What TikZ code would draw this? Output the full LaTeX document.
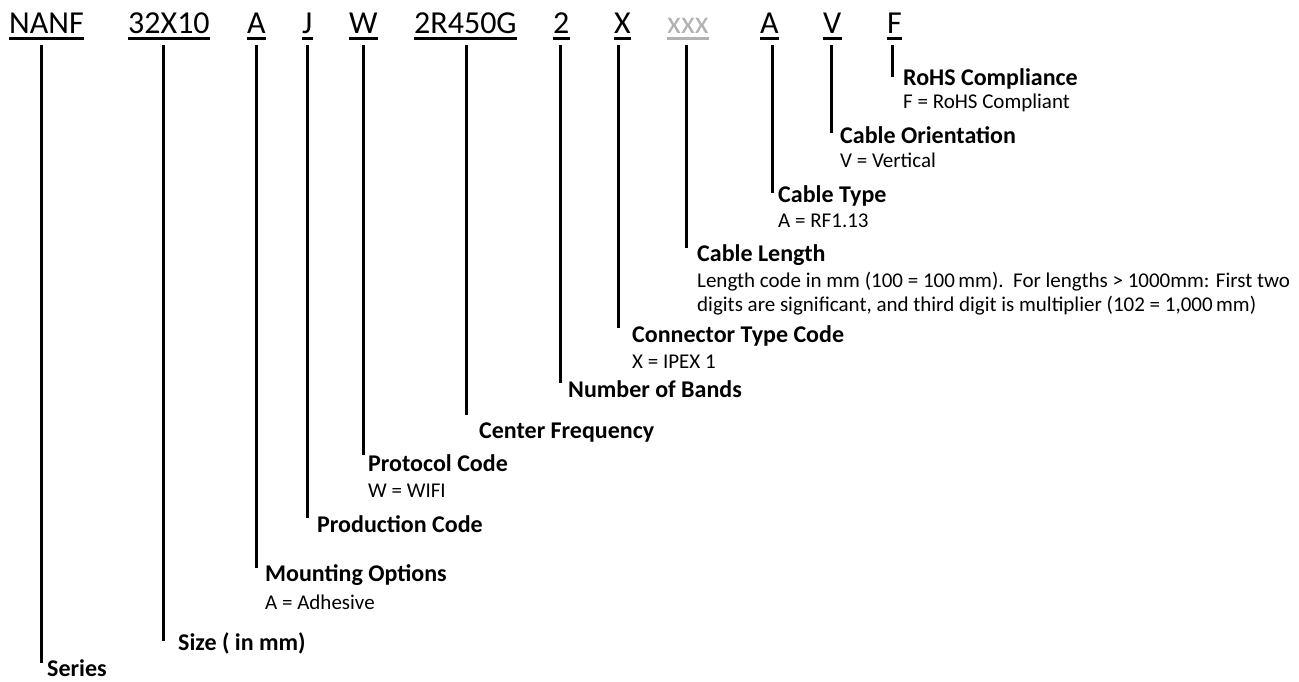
\documentclass[tikz,border=0pt]{standalone}
\usepackage{fontspec}
\setmainfont{Carlito}
\usepackage{tikz}
\usetikzlibrary{positioning,calc}
\tikzset{
    codigo/.style={
        anchor=base west,
        inner sep=0pt,
        text depth=12pt,
        font=\fontsize{32}{36}\selectfont
    },
    codigoCinza/.style={codigo, text=black!30},
    titulo/.style={
        anchor=base west,
        inner sep=0pt,
        font=\fontsize{24}{28}\selectfont\bfseries
    },
    descricao/.style={
        anchor=base west,
        inner sep=0pt,
        align=left,
        font=\fontsize{21}{24}\selectfont
    },
    perna/.style={line width=3pt},
    sublinha/.style={line width=2.5pt}
}

\begin{document}
\begin{tikzpicture}[x=1pt, y=-1pt]
        \useasboundingbox (0,0) rectangle (1299,681);

        % codigo da peca
        \node[codigo] (nanf) at (9,33) {NANF};
        \node[codigo] (tamanho) at (128,33) {32X10};
        \node[codigo] (montagem) at (247,33) {A};
        \node[codigo] (producao) at (302,33) {J};
        \node[codigo] (protocolo) at (349,33) {W};
        \node[codigo] (frequencia) at (414,33) {2R450G};
        \node[codigo] (bandas) at (553,33) {2};
        \node[codigo] (conector) at (614,33) {X};
        \node[codigoCinza] (comprimento) at (667,33) {xxx};
        \node[codigo] (tipocabo) at (760,33) {A};
        \node[codigo] (orientacao) at (823,33) {V};
        \node[codigo] (rohs) at (887,33) {F};

        \foreach \n in {nanf,tamanho,montagem,producao,protocolo,frequencia,bandas,conector,tipocabo,orientacao,rohs}
            \draw[sublinha] ([yshift=-5.3pt]\n.base west) -- ([yshift=-5.3pt]\n.base east);
        \draw[sublinha, black!30] ([yshift=-5.3pt]comprimento.base west) -- ([yshift=-5.3pt]comprimento.base east);

        % fins das pernas
        \coordinate (p-rohs) at (892,77);
        \coordinate (p-orient) at (831,133);
        \coordinate (p-tipo) at (772,193);
        \coordinate (p-compr) at (686,248);
        \coordinate (p-conect) at (618,328);
        \coordinate (p-bandas) at (560,383);
        \coordinate (p-freq) at (466,415);
        \coordinate (p-prot) at (363,455);
        \coordinate (p-prod) at (307,518);
        \coordinate (p-mont) at (256,568);
        \coordinate (p-tam) at (163,641);
        \coordinate (p-serie) at (41,663);

        % legendas
        \node[titulo] (t-rohs) at ([shift={(11,8)}]p-rohs) {RoHS Compliance};
        \node[descricao] (d-rohs) at ([yshift=-23pt]t-rohs.base west) {F = RoHS Compliant};
        \node[titulo] (t-orient) at ([shift={(9,10)}]p-orient) {Cable Orientation};
        \node[descricao] (d-orient) at ([yshift=-24pt]t-orient.base west) {V = Vertical};
        \node[titulo] (t-tipo) at ([shift={(6,9)}]p-tipo) {Cable Type};
        \node[descricao] (d-tipo) at ([yshift=-25pt]t-tipo.base west) {A = RF1.13};
        \node[titulo] (t-compr) at ([shift={(11,13)}]p-compr) {Cable Length};
        \node[descricao] (d-compr) at ([yshift=-26pt]t-compr.base west) {Length code in mm (100 = 100\,mm).\ \ For lengths > 1000mm: First two};
        \node[descricao] (d-compr2) at ([yshift=-24pt]d-compr.base west) {digits are significant, and third digit is multiplier (102 = 1,000\,mm)};
        \node[titulo] (t-conect) at ([shift={(14,14)}]p-conect) {Connector Type Code};
        \node[descricao] (d-conect) at ([yshift=-26pt]t-conect.base west) {X = IPEX 1};
        \node[titulo] (t-bandas) at ([shift={(8,14)}]p-bandas) {Number of Bands};
        \node[titulo] (t-freq) at ([shift={(13,23)}]p-freq) {Center Frequency};
        \node[titulo] (t-prot) at ([shift={(5,16)}]p-prot) {Protocol Code};
        \node[descricao] (d-prot) at ([yshift=-26pt]t-prot.base west) {W = WIFI};
        \node[titulo] (t-prod) at ([shift={(10,14)}]p-prod) {Production Code};
        \node[titulo] (t-mont) at ([shift={(9,13)}]p-mont) {Mounting Options};
        \node[descricao] (d-mont) at ([yshift=-28pt]t-mont.base west) {A = Adhesive};
        \node[titulo] (t-tam) at ([shift={(15,9)}]p-tam) {Size ( in mm)};
        \node[titulo] (t-serie) at ([shift={(6,13)}]p-serie) {Series};

        % pernas
        \draw[perna] (rohs.south -| p-rohs) -- (p-rohs);
        \draw[perna] (orientacao.south -| p-orient) -- (p-orient);
        \draw[perna] (tipocabo.south -| p-tipo) -- (p-tipo);
        \draw[perna] (comprimento.south -| p-compr) -- (p-compr);
        \draw[perna] (conector.south -| p-conect) -- (p-conect);
        \draw[perna] (bandas.south -| p-bandas) -- (p-bandas);
        \draw[perna] (frequencia.south -| p-freq) -- (p-freq);
        \draw[perna] (protocolo.south -| p-prot) -- (p-prot);
        \draw[perna] (producao.south -| p-prod) -- (p-prod);
        \draw[perna] (montagem.south -| p-mont) -- (p-mont);
        \draw[perna] (tamanho.south -| p-tam) -- (p-tam);
        \draw[perna] (nanf.south -| p-serie) -- (p-serie);
    \end{tikzpicture}
\end{document}
